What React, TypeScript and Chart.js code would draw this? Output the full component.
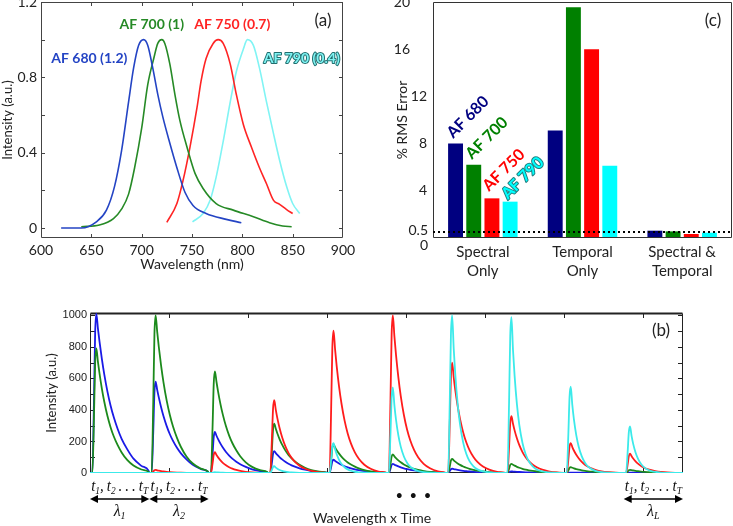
import React, { useEffect, useRef } from "react";
import { Chart, registerables } from "chart.js";

Chart.register(...registerables);

const SANS = "Lato, 'Open Sans', sans-serif";
const SERIF = "'Liberation Serif', 'DejaVu Serif', serif";
const ARIAL = "'Liberation Sans', Arial, sans-serif";

// ---------------- Panel (a): normalized emission spectra ----------------
const AF680_WAVELENGTH = [620, 640, 655, 665, 673, 680, 687, 692, 697, 702, 706, 711, 716, 721, 728, 735, 743, 751, 764, 784, 799];
const AF680_INTENSITY = [0, 0, 0.033, 0.095, 0.22, 0.41, 0.67, 0.85, 0.97, 1.0, 0.97, 0.85, 0.71, 0.59, 0.45, 0.32, 0.19, 0.12, 0.077, 0.046, 0.028];
const AF700_WAVELENGTH = [640, 658, 672, 680, 687, 693, 700, 706, 712, 716, 720, 723, 728, 733, 738, 745, 753, 761, 774, 791, 811, 827, 840, 849];
const AF700_INTENSITY = [0.007, 0.016, 0.05, 0.1, 0.18, 0.32, 0.53, 0.76, 0.9, 0.98, 1.0, 0.98, 0.87, 0.71, 0.57, 0.43, 0.29, 0.21, 0.13, 0.095, 0.06, 0.028, 0.011, 0.007];
const AF750_WAVELENGTH = [725, 735, 741, 748, 755, 759, 764, 771, 776, 781, 788, 794, 801, 809, 817, 824, 831, 837, 844, 850];
const AF750_INTENSITY = [0.03, 0.13, 0.25, 0.43, 0.64, 0.78, 0.9, 0.98, 1.0, 0.98, 0.87, 0.71, 0.55, 0.43, 0.32, 0.235, 0.147, 0.126, 0.098, 0.077];
const AF790_WAVELENGTH = [750.5, 761, 768, 774, 781, 788, 794, 801, 805, 811, 817, 824, 831, 837, 844, 850, 857];
const AF790_INTENSITY = [0.033, 0.077, 0.147, 0.27, 0.46, 0.67, 0.83, 0.95, 1.0, 0.97, 0.85, 0.67, 0.5, 0.36, 0.22, 0.13, 0.077];
const A_TICKS_X = [600, 650, 700, 750, 800, 850, 900];
const A_TICKS_Y = [0, 0.4, 0.8, 1.2];
const A_MARKS_Y = [0, 0.2, 0.4, 0.6, 0.8, 1.0, 1.2];
const A_LABELS = ["AF 680 (1.2)", "AF 700 (1)", "AF 750 (0.7)", "AF 790 (0.4)"];
const A_LABEL_X = [648, 710, 790, 859];
const A_LABEL_Y = [0.9, 1.08, 1.08, 0.9];
const A_COLORS = ["#2444c4", "#268a26", "#ff2424", "#80f4f4"];

// ---------------- Panel (b): wavelength x time decays ----------------
const B_BLOCK_LEN = 75;
const B_BLOCKS = 10;
const B_PULSE_OFFSETS = [0, 3, 5, 6.5, 8, 10, 12, 15, 18, 22, 26, 30, 35, 40, 47, 55, 65, 74];
const B_PULSE_AF680 = [0, 0, 0.45, 0.88, 1, 0.909, 0.827, 0.717, 0.621, 0.513, 0.424, 0.351, 0.276, 0.215, 0.15, 0.09, 0.045, 0.015];
const B_PULSE_AF700 = [0, 0, 0.45, 0.88, 1, 0.895, 0.801, 0.678, 0.574, 0.459, 0.368, 0.295, 0.223, 0.165, 0.105, 0.06, 0.028, 0.01];
const B_PULSE_AF750 = [0, 0, 0.45, 0.88, 1, 0.867, 0.751, 0.607, 0.49, 0.368, 0.276, 0.208, 0.145, 0.1, 0.058, 0.03, 0.01, 0.003];
const B_PULSE_AF790 = [0, 0, 0.45, 0.88, 1, 0.79, 0.625, 0.439, 0.308, 0.193, 0.12, 0.075, 0.042, 0.023, 0.01, 0.004, 0.001, 0];
const B_PEAK_AF680 = [1010, 580, 260, 139, 84, 58, 27, 10, 3, 2];
const B_PEAK_AF700 = [790, 1000, 645, 313, 181, 118, 90, 58, 37, 20];
const B_PEAK_AF750 = [0, 20, 132, 462, 903, 1000, 700, 360, 190, 122];
const B_PEAK_AF790 = [0, 0, 5, 43, 190, 543, 1000, 988, 547, 296];
const B_TICKS_Y = [0, 200, 400, 600, 800, 1000];
const B_MARKS_Y = [100, 200, 300, 400, 500, 600, 700, 800, 900, 1000];
const B_MARKS_X = [100, 200, 300, 400, 500, 600, 700];
const B_COLORS = ["#1a1ae6", "#1c8a1c", "#ff1c1c", "#3ceaea"];
const B_LABELLED_BLOCKS = [0, 1, 9];
const B_LAMBDA_SUBS = ["1", "2", "L"];

// ---------------- Panel (c): % RMS error ----------------
const C_CATEGORIES = [["Spectral", "Only"], ["Temporal", "Only"], ["Spectral &", "Temporal"]];
const C_RMS_AF680 = [8.0, 9.1, 0.62];
const C_RMS_AF700 = [6.2, 19.55, 0.56];
const C_RMS_AF750 = [3.36, 16.0, 0.34];
const C_RMS_AF790 = [3.08, 6.13, 0.45];
const C_TICKS_Y_INNER = [4, 8, 12];
const C_TICKS_Y_OUTER = [16, 20];
const C_THRESHOLD = 0.5;
const C_COLORS = ["#000080", "#008000", "#ff0000", "#00ffff"];
const C_LABELS = ["AF 680", "AF 700", "AF 750", "AF 790"];
const C_LABEL_X = [-0.15, 0.04, 0.21, 0.4];
const C_LABEL_Y = [10.25, 8.47, 5.76, 5.08];

function drawFrame(chart: any, color: string, lw: number, topLw?: number) {
  const { ctx, chartArea: a } = chart;
  ctx.save();
  ctx.strokeStyle = color;
  ctx.lineWidth = lw;
  const l = Math.round(a.left) + 0.5, r = Math.round(a.right) - 0.5;
  const t = Math.round(a.top) + 0.5, b = Math.round(a.bottom) - 0.5;
  ctx.beginPath();
  ctx.moveTo(l, t); ctx.lineTo(l, b); ctx.lineTo(r, b); ctx.lineTo(r, t);
  ctx.stroke();
  ctx.lineWidth = topLw || lw;
  ctx.beginPath();
  ctx.moveTo(l, t); ctx.lineTo(r, t);
  ctx.stroke();
  ctx.restore();
}

function drawTicksX(chart: any, values: number[], len: number, color: string) {
  const { ctx, chartArea: a, scales } = chart;
  ctx.save();
  ctx.strokeStyle = color; ctx.lineWidth = 1;
  ctx.beginPath();
  values.forEach((v) => {
    const x = Math.round(scales.x.getPixelForValue(v)) + 0.5;
    ctx.moveTo(x, a.bottom); ctx.lineTo(x, a.bottom - len);
    ctx.moveTo(x, a.top); ctx.lineTo(x, a.top + len);
  });
  ctx.stroke();
  ctx.restore();
}

function drawTicksY(chart: any, values: number[], len: number, color: string) {
  const { ctx, chartArea: a, scales } = chart;
  ctx.save();
  ctx.strokeStyle = color; ctx.lineWidth = 1;
  ctx.beginPath();
  values.forEach((v) => {
    const y = Math.round(scales.y.getPixelForValue(v)) + 0.5;
    ctx.moveTo(a.left, y); ctx.lineTo(a.left + len, y);
    ctx.moveTo(a.right, y); ctx.lineTo(a.right - len, y);
  });
  ctx.stroke();
  ctx.restore();
}

function text(ctx: any, s: string, x: number, y: number, font: string, color: string, align = "center", rot = 0, stroke?: string) {
  ctx.save();
  ctx.translate(x, y);
  if (rot) ctx.rotate(rot);
  ctx.font = font;
  ctx.textAlign = align;
  ctx.textBaseline = "middle";
  if (stroke) {
    ctx.strokeStyle = stroke;
    ctx.lineWidth = 2;
    ctx.lineJoin = "round";
    ctx.strokeText(s, 0, 0);
  }
  ctx.fillStyle = color;
  ctx.fillText(s, 0, 0);
  ctx.restore();
}

function runs(ctx: any, parts: { t: string; sub?: string }[], cx: number, cy: number, size: number, color: string, maxW = 1000) {
  const mainFont = `italic ${size}px ${SERIF}`;
  const subFont = `italic ${Math.round(size * 0.65)}px ${SERIF}`;
  ctx.save();
  let total = 0;
  const widths = parts.map((p) => {
    ctx.font = mainFont;
    const w1 = ctx.measureText(p.t).width;
    ctx.font = subFont;
    const w2 = p.sub ? ctx.measureText(p.sub).width : 0;
    total += w1 + w2;
    return [w1, w2];
  });
  const k = Math.min(1, maxW / total);
  ctx.translate(cx, cy);
  ctx.scale(k, 1);
  let x = -total / 2;
  ctx.fillStyle = color;
  ctx.textAlign = "left";
  ctx.textBaseline = "middle";
  parts.forEach((p, i) => {
    ctx.font = mainFont;
    ctx.fillText(p.t, x, 0);
    x += widths[i][0];
    if (p.sub) {
      ctx.font = subFont;
      ctx.fillText(p.sub, x, size * 0.28);
      x += widths[i][1];
    }
  });
  ctx.restore();
}

function arrow(ctx: any, x1: number, x2: number, y: number) {
  ctx.save();
  ctx.strokeStyle = "#000"; ctx.fillStyle = "#000"; ctx.lineWidth = 1.3;
  ctx.beginPath(); ctx.moveTo(x1 + 4, y); ctx.lineTo(x2 - 4, y); ctx.stroke();
  ctx.beginPath(); ctx.moveTo(x1, y); ctx.lineTo(x1 + 8, y - 4); ctx.lineTo(x1 + 8, y + 4); ctx.closePath(); ctx.fill();
  ctx.beginPath(); ctx.moveTo(x2, y); ctx.lineTo(x2 - 8, y - 4); ctx.lineTo(x2 - 8, y + 4); ctx.closePath(); ctx.fill();
  ctx.restore();
}

const noPadV = (w: number) => (s: any) => { s.width = w; s.paddingTop = 0; s.paddingBottom = 0; };
const noPadH = (h: number) => (s: any) => { s.height = h; s.paddingLeft = 0; s.paddingRight = 0; };

const axisCommon = (size: number, family = SANS) => ({
  grid: { drawOnChartArea: false, drawTicks: false },
  border: { display: false },
  ticks: { color: "#222", font: { family, size }, autoSkip: false, maxRotation: 0 },
});

function makeA(canvas: HTMLCanvasElement) {
  const series = [
    [AF680_WAVELENGTH, AF680_INTENSITY],
    [AF700_WAVELENGTH, AF700_INTENSITY],
    [AF750_WAVELENGTH, AF750_INTENSITY],
    [AF790_WAVELENGTH, AF790_INTENSITY],
  ];
  const plugin = {
    id: "frameA",
    afterDraw(chart: any) {
      drawFrame(chart, "#444", 1);
      drawTicksX(chart, A_TICKS_X.slice(1, -1), 4, "#444");
      drawTicksY(chart, A_MARKS_Y, 4, "#444");
      const { ctx, scales } = chart;
      A_LABELS.forEach((s, i) => {
        text(ctx, s, scales.x.getPixelForValue(A_LABEL_X[i]), scales.y.getPixelForValue(A_LABEL_Y[i]), `bold 14px ${SANS}`,
          A_COLORS[i], "center", 0, i === 3 ? "#1f6e6e" : undefined);
      });
      text(ctx, "(a)", 323, 21, `17px ${SANS}`, "#222");
    },
  };
  return new Chart(canvas, {
    type: "line",
    data: {
      datasets: series.map(([xs, ys], i) => ({
        label: A_LABELS[i],
        data: xs.map((x, j) => ({ x, y: ys[j] })),
        borderColor: A_COLORS[i],
        borderWidth: 1.6,
        pointRadius: 0,
        cubicInterpolationMode: "monotone",
        fill: false,
      })),
    },
    options: {
      animation: false,
      responsive: false,
      devicePixelRatio: 1,
      layout: { padding: { top: 2, right: 17, left: 0, bottom: 0 } },
      plugins: { legend: { display: false }, tooltip: { enabled: false } },
      scales: {
        x: {
          type: "linear", min: 600, max: 900,
          ...axisCommon(14),
          ticks: { ...axisCommon(14).ticks, padding: 4 },
          afterBuildTicks: (s: any) => { s.ticks = A_TICKS_X.map((v) => ({ value: v })); },
          afterFit: noPadH(42),
          title: { display: true, text: "Wavelength (nm)", color: "#222", font: { family: SANS, size: 14 }, padding: { top: 0, bottom: 7 } },
        },
        y: {
          type: "linear", min: -0.053, max: 1.2,
          ...axisCommon(14),
          ticks: { ...axisCommon(14).ticks, padding: 4, callback: (v: any) => String(v) },
          afterBuildTicks: (s: any) => { s.ticks = A_TICKS_Y.map((v) => ({ value: v })); },
          afterFit: noPadV(41),
          title: { display: true, text: "Intensity (a.u.)", color: "#222", font: { family: SANS, size: 13 }, padding: { top: 0, bottom: 0 } },
        },
      },
    } as any,
    plugins: [plugin],
  });
}

function makeB(canvas: HTMLCanvasElement) {
  const pulses = [B_PULSE_AF790, B_PULSE_AF750, B_PULSE_AF700, B_PULSE_AF680];
  const peaks = [B_PEAK_AF790, B_PEAK_AF750, B_PEAK_AF700, B_PEAK_AF680];
  const colors = [B_COLORS[3], B_COLORS[2], B_COLORS[1], B_COLORS[0]];
  const names = ["AF 790", "AF 750", "AF 700", "AF 680"];
  const datasets = pulses.map((pulse, k) => {
    const data: { x: number; y: number }[] = [];
    for (let b = 0; b < B_BLOCKS; b++) {
      B_PULSE_OFFSETS.forEach((off, j) => data.push({ x: b * B_BLOCK_LEN + off, y: peaks[k][b] * pulse[j] }));
    }
    data.push({ x: B_BLOCKS * B_BLOCK_LEN, y: 0 });
    return {
      label: names[k], data, borderColor: colors[k], borderWidth: 1.8, pointRadius: 0,
      cubicInterpolationMode: "monotone", fill: false,
    };
  });
  const plugin = {
    id: "frameB",
    beforeDatasetsDraw(chart: any) {
      drawFrame(chart, "#222", 1, 2);
      drawTicksX(chart, B_MARKS_X, 5, "#222");
      drawTicksY(chart, B_MARKS_Y, 5, "#222");
    },
    afterDraw(chart: any) {
      const { ctx, scales, chartArea: a } = chart;
      const xs = scales.x;
      const tParts = [{ t: "t", sub: "1" }, { t: ",\u2009" }, { t: "t", sub: "2" }, { t: "\u2009.\u2009.\u2009.\u2009" }, { t: "t", sub: "T" }];
      B_LABELLED_BLOCKS.forEach((b, i) => {
        const x1 = xs.getPixelForValue(b * B_BLOCK_LEN);
        const x2 = xs.getPixelForValue((b + 1) * B_BLOCK_LEN);
        const cx = (x1 + x2) / 2;
        runs(ctx, tParts, cx, a.bottom + 14, 16, "#111", 57);
        arrow(ctx, x1, x2, a.bottom + 26);
        runs(ctx, [{ t: "λ", sub: B_LAMBDA_SUBS[i] }], cx, a.bottom + 39, 16, "#111");
      });
      [391, 409, 427].forEach((v) => text(ctx, "•", xs.getPixelForValue(v), a.bottom + 23, `13px ${SANS}`, "#111"));
      text(ctx, "Wavelength x Time", 372, 238, `14px ${SANS}`, "#222");
      text(ctx, "(b)", 661, 51, `17px ${SANS}`, "#222");
    },
  };
  return new Chart(canvas, {
    type: "line",
    data: { datasets },
    options: {
      animation: false,
      responsive: false,
      devicePixelRatio: 1,
      layout: { padding: { top: 33, right: 50, left: 0, bottom: 0 } },
      plugins: { legend: { display: false }, tooltip: { enabled: false } },
      scales: {
        x: {
          type: "linear", min: 0, max: B_BLOCKS * B_BLOCK_LEN,
          ...axisCommon(11, ARIAL),
          ticks: { display: false },
          afterFit: noPadH(53),
        },
        y: {
          type: "linear", min: 0, max: 1015,
          ...axisCommon(11, ARIAL),
          ticks: { ...axisCommon(11, ARIAL).ticks, padding: 3, callback: (v: any) => String(v) },
          afterBuildTicks: (s: any) => { s.ticks = B_TICKS_Y.map((v) => ({ value: v })); },
          afterFit: noPadV(90),
          title: { display: true, text: "Intensity (a.u.)", color: "#222", font: { family: SANS, size: 13 }, padding: { top: 44, bottom: 0 } },
        },
      },
    } as any,
    plugins: [plugin],
  });
}

function makeC(canvas: HTMLCanvasElement) {
  const values = [C_RMS_AF680, C_RMS_AF700, C_RMS_AF750, C_RMS_AF790];
  const plugin = {
    id: "frameC",
    afterDraw(chart: any) {
      const { ctx, scales, chartArea: a } = chart;
      drawFrame(chart, "#333", 1);
      const y = Math.round(scales.y.getPixelForValue(C_THRESHOLD));
      ctx.save();
      ctx.strokeStyle = "#000"; ctx.lineWidth = 2; ctx.setLineDash([2, 3]);
      ctx.beginPath(); ctx.moveTo(a.left, y); ctx.lineTo(a.right + 2, y); ctx.stroke();
      ctx.restore();
      const f = `14px ${SANS}`;
      text(ctx, "0.5", a.left - 5, y - 2, f, "#222", "right");
      text(ctx, "0", a.left - 5, scales.y.getPixelForValue(0) + 7, f, "#222", "right");
      C_TICKS_Y_OUTER.forEach((v) => text(ctx, String(v), a.left - 23, scales.y.getPixelForValue(v), f, "#222", "right"));
      C_LABELS.forEach((s, i) => {
        text(ctx, s, scales.x.getPixelForValue(C_LABEL_X[i]), scales.y.getPixelForValue(C_LABEL_Y[i]), `bold 16px ${SANS}`,
          C_COLORS[i], "center", -Math.PI / 4, i === 3 ? "#1f8080" : undefined);
      });
      text(ctx, "(c)", 353, 21, `17px ${SANS}`, "#222");
    },
  };
  return new Chart(canvas, {
    type: "bar",
    data: {
      labels: C_CATEGORIES,
      datasets: values.map((v, i) => ({
        label: C_LABELS[i], data: v, backgroundColor: C_COLORS[i], borderWidth: 0,
        categoryPercentage: 0.73, barPercentage: 0.82,
      })),
    },
    options: {
      animation: false,
      responsive: false,
      devicePixelRatio: 1,
      layout: { padding: { top: 2, right: 1, left: 0, bottom: 0 } },
      plugins: { legend: { display: false }, tooltip: { enabled: false } },
      scales: {
        x: {
          ...axisCommon(15),
          ticks: { ...axisCommon(15).ticks, padding: 5, font: { family: SANS, size: 15, lineHeight: 1.25 } },
          afterFit: noPadH(42),
        },
        y: {
          type: "linear", min: 0, max: 20,
          ...axisCommon(14),
          ticks: { ...axisCommon(14).ticks, padding: 6 },
          afterBuildTicks: (s: any) => { s.ticks = C_TICKS_Y_INNER.map((v) => ({ value: v })); },
          afterFit: noPadV(73),
          title: { display: true, text: "% RMS Error", color: "#222", font: { family: SANS, size: 14 }, padding: { top: 34, bottom: 0 } },
        },
      },
    } as any,
    plugins: [plugin],
  });
}

export default function App() {
  const aRef = useRef<HTMLCanvasElement>(null);
  const bRef = useRef<HTMLCanvasElement>(null);
  const cRef = useRef<HTMLCanvasElement>(null);
  useEffect(() => {
    const charts = [makeA(aRef.current!), makeC(cRef.current!), makeB(bRef.current!)];
    return () => charts.forEach((c) => c.destroy());
  }, []);
  return (
    <div style={{ position: "fixed", left: 0, top: 0, width: 733, height: 526, background: "#fff", overflow: "hidden" }}>
      <canvas ref={aRef} width={360} height={280} style={{ position: "absolute", left: 0, top: 0, width: 360, height: 280 }} />
      <canvas ref={cRef} width={373} height={280} style={{ position: "absolute", left: 360, top: 0, width: 373, height: 280 }} />
      <canvas ref={bRef} width={733} height={246} style={{ position: "absolute", left: 0, top: 280, width: 733, height: 246 }} />
    </div>
  );
}
